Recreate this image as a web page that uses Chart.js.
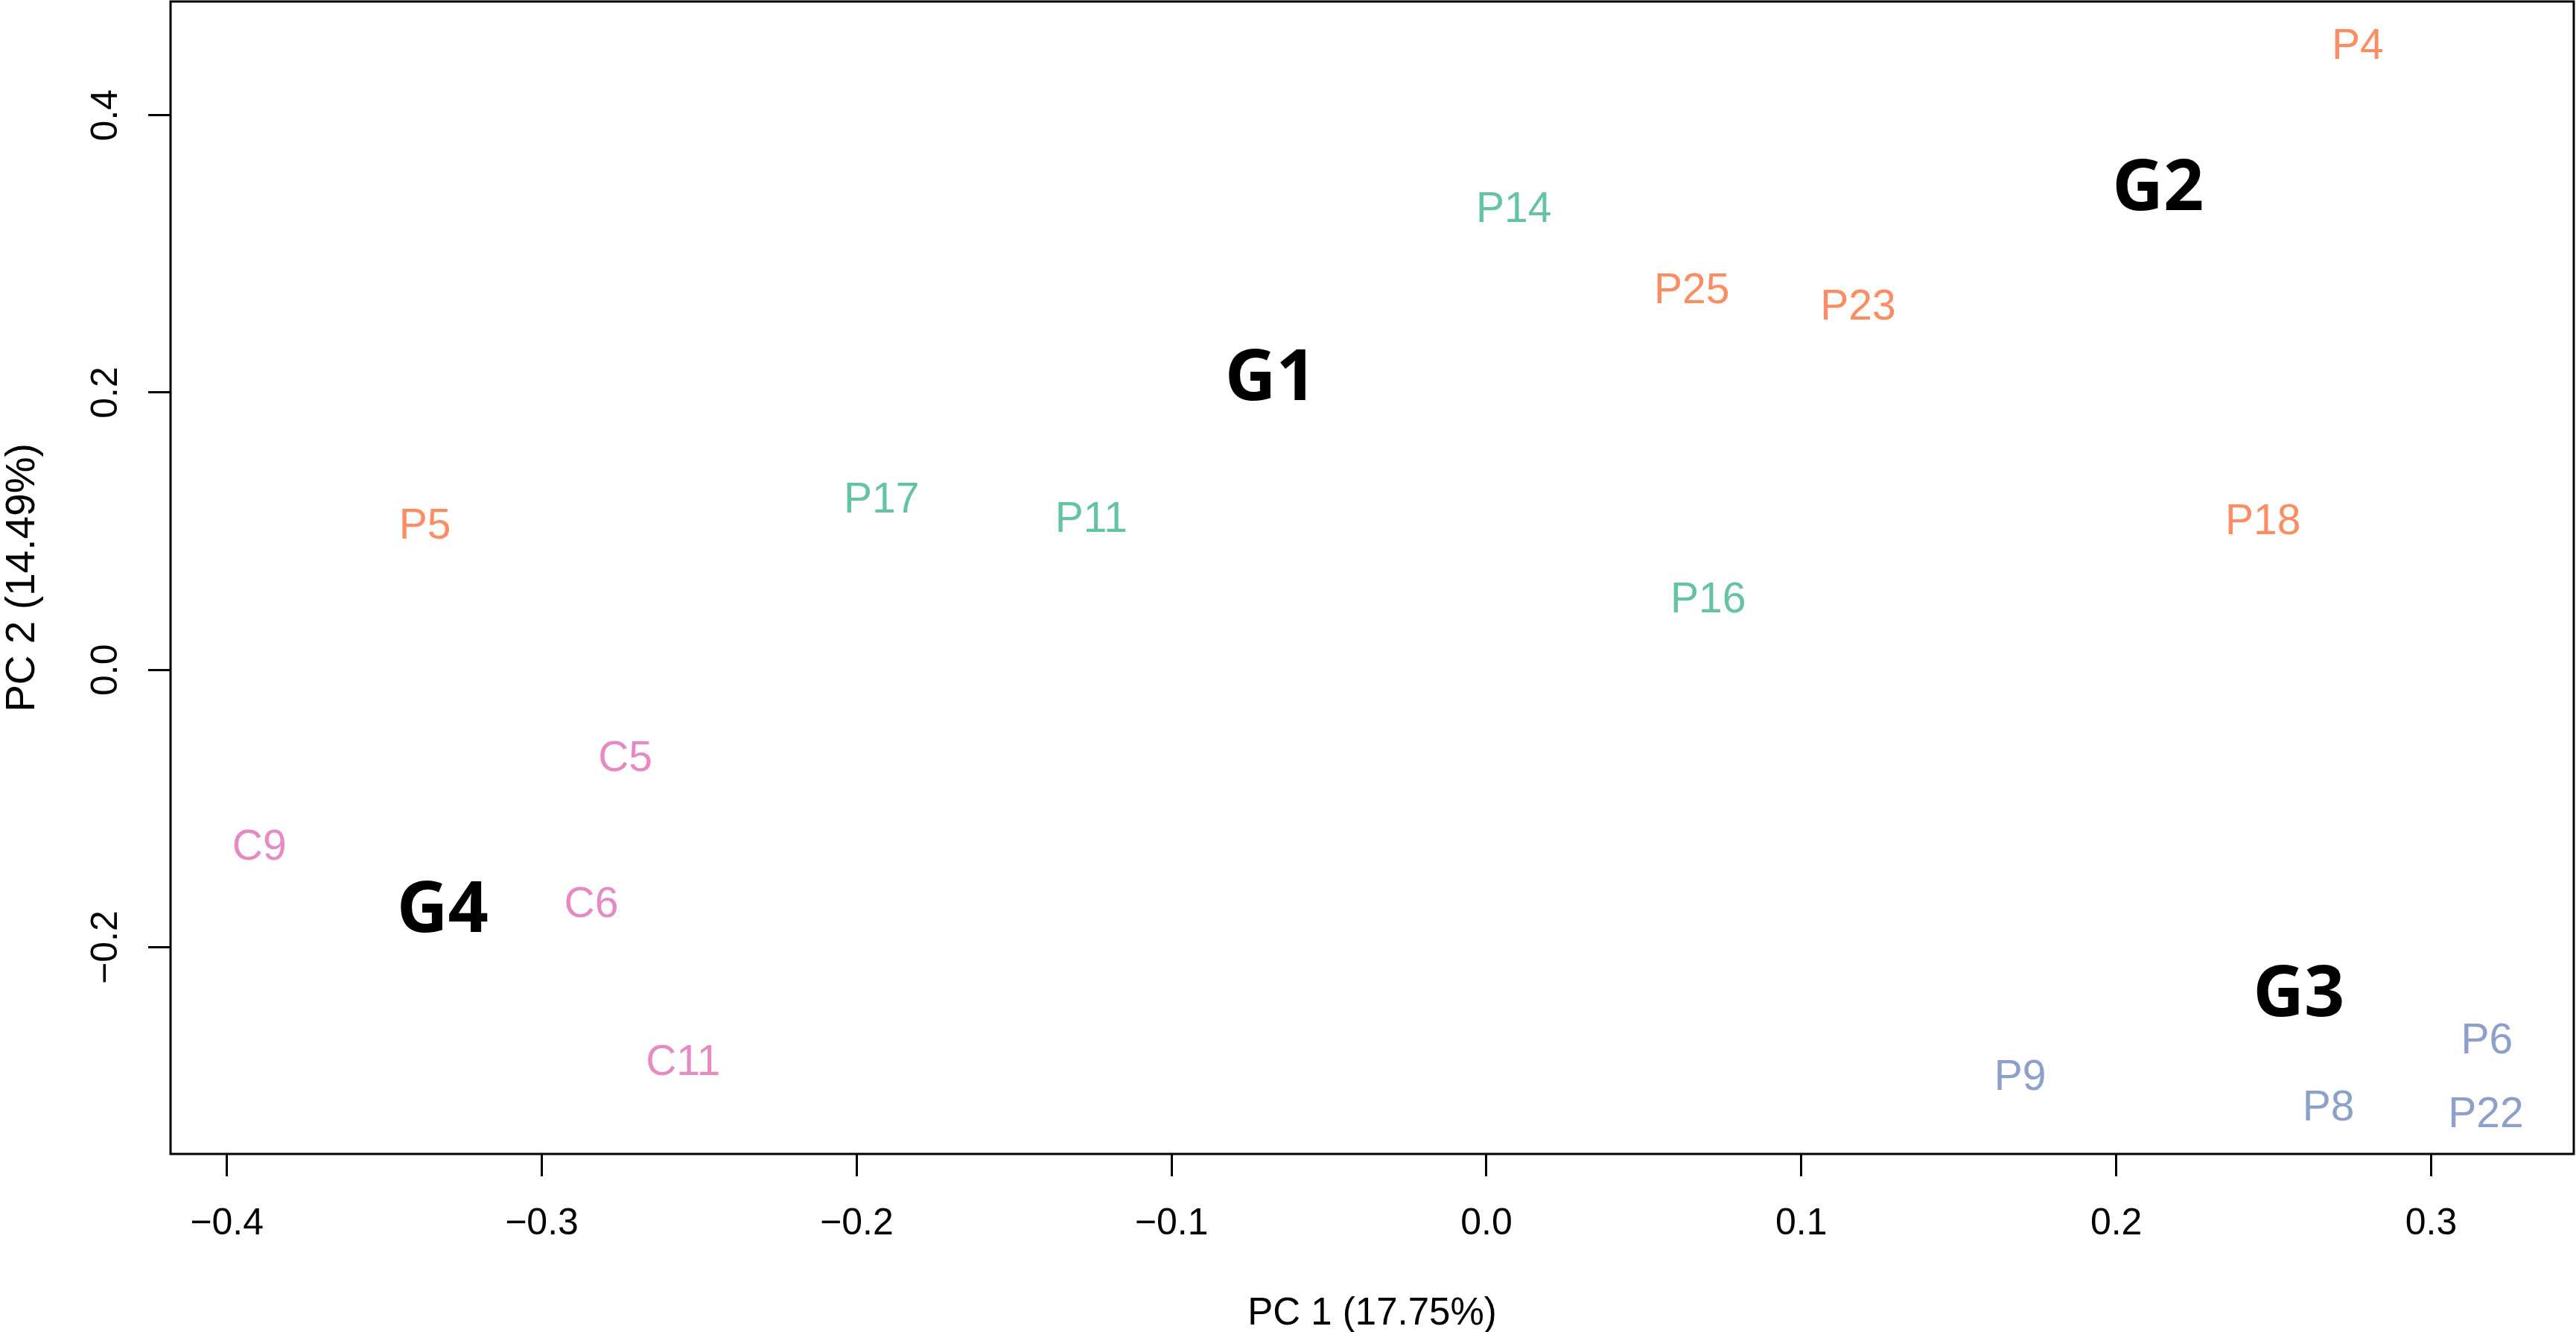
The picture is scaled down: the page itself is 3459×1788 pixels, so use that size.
<!DOCTYPE html>
<html>
<head>
<meta charset="utf-8">
<script src="https://cdn.jsdelivr.net/npm/chart.js@4.4.1/dist/chart.umd.min.js"></script>
<style>
  html, body { margin: 0; padding: 0; background: #fff; }
  canvas { display: block; }
</style>
</head>
<body>
<canvas id="pcaChart" width="3459" height="1788"></canvas>
<script>
// sample labels and their PCA coordinates, grouped by colour
const orangeNames = ['P4', 'P25', 'P23', 'P5', 'P18'];
const orangeX = [0.2767, 0.0652, 0.1180, -0.3371, 0.2466];
const orangeY = [0.4512, 0.2754, 0.2635, 0.1057, 0.1092];

const greenNames = ['P14', 'P17', 'P11', 'P16'];
const greenX = [0.0087, -0.1921, -0.1255, 0.0704];
const greenY = [0.3340, 0.1244, 0.1105, 0.0523];

const blueNames = ['P6', 'P9', 'P8', 'P22'];
const blueX = [0.3177, 0.1695, 0.2674, 0.3174];
const blueY = [-0.2656, -0.2917, -0.3139, -0.3188];

const pinkNames = ['C5', 'C9', 'C6', 'C11'];
const pinkX = [-0.2735, -0.3897, -0.2843, -0.2551];
const pinkY = [-0.0618, -0.1256, -0.1671, -0.2809];

// group captions
const groupNames = ['G1', 'G2', 'G3', 'G4'];
const groupX = [-0.0685, 0.2133, 0.2580, -0.3315];
const groupY = [0.2131, 0.3501, -0.2312, -0.1702];

const xTitle = 'PC 1 (17.75%)';
const yTitle = 'PC 2 (14.49%)';

const SANS = '"Liberation Sans", Arial, Helvetica, sans-serif';

function toPoints(xs, ys) {
  return xs.map((x, i) => ({ x: x, y: ys[i] }));
}

function fmt(v) {
  if (Math.abs(v) < 1e-9) v = 0;
  return v.toFixed(1).replace('-', '\u2212');
}

function makeSet(names, xs, ys, color, font) {
  return {
    data: toPoints(xs, ys),
    names: names,
    textColor: color,
    textFont: font,
    pointRadius: 0,
    pointHoverRadius: 0,
    showLine: false
  };
}

// draws each label centred on its point, like R's text()
const textLabels = {
  id: 'textLabels',
  afterDatasetsDraw(chart) {
    const ctx = chart.ctx;
    chart.data.datasets.forEach((ds, di) => {
      const meta = chart.getDatasetMeta(di);
      ctx.save();
      ctx.font = ds.textFont;
      ctx.fillStyle = ds.textColor;
      ctx.textAlign = 'center';
      ctx.textBaseline = 'alphabetic';
      meta.data.forEach((pt, i) => {
        const s = ds.names[i];
        const m = ctx.measureText(s);
        ctx.fillText(s, pt.x, pt.y + m.actualBoundingBoxAscent / 2);
      });
      ctx.restore();
    });
  }
};

// box, rotated y tick labels and axis titles
const axisDecor = {
  id: 'axisDecor',
  afterDraw(chart) {
    const ctx = chart.ctx;
    const a = chart.chartArea;
    const ys = chart.scales.y;
    ctx.save();
    ctx.strokeStyle = '#000';
    ctx.lineWidth = 3;
    ctx.strokeRect(a.left, a.top, a.right - a.left, a.bottom - a.top);

    ctx.fillStyle = '#000';
    ctx.textAlign = 'center';
    ctx.textBaseline = 'alphabetic';
    ctx.font = '50px ' + SANS;
    ys.ticks.forEach(t => {
      const py = ys.getPixelForValue(t.value);
      ctx.save();
      ctx.translate(a.left - 72, py);
      ctx.rotate(-Math.PI / 2);
      ctx.fillText(fmt(t.value), 0, 0);
      ctx.restore();
    });

    ctx.font = '55px ' + SANS;
    ctx.save();
    ctx.translate(46, (a.top + a.bottom) / 2);
    ctx.rotate(-Math.PI / 2);
    ctx.fillText(yTitle, 0, 0);
    ctx.restore();

    ctx.font = '51px ' + SANS;
    ctx.fillText(xTitle, (a.left + a.right) / 2, 1778);
    ctx.restore();
  }
};

new Chart(document.getElementById('pcaChart'), {
  type: 'scatter',
  data: {
    datasets: [
      makeSet(orangeNames, orangeX, orangeY, '#FC8D62', '57px ' + SANS),
      makeSet(greenNames, greenX, greenY, '#66C2A5', '57px ' + SANS),
      makeSet(blueNames, blueX, blueY, '#8DA0CB', '57px ' + SANS),
      makeSet(pinkNames, pinkX, pinkY, '#E78AC3', '57px ' + SANS),
      makeSet(groupNames, groupX, groupY, '#000000', 'bold 95px "Open Sans", "Noto Sans", sans-serif')
    ]
  },
  options: {
    responsive: false,
    devicePixelRatio: 1,
    animation: false,
    events: [],
    layout: { padding: { top: 2, right: 3, left: 0, bottom: 0 } },
    plugins: {
      legend: { display: false },
      tooltip: { enabled: false }
    },
    scales: {
      x: {
        type: 'linear',
        min: -0.4179,
        max: 0.3453,
        border: { display: false },
        grid: {
          drawOnChartArea: false,
          drawTicks: true,
          tickLength: 30,
          tickWidth: 3,
          tickColor: '#000'
        },
        ticks: {
          stepSize: 0.1,
          includeBounds: false,
          autoSkip: false,
          maxRotation: 0,
          padding: 34,
          color: '#000',
          font: { family: SANS, size: 50 },
          callback: v => fmt(v)
        },
        afterFit(scale) { scale.height = 239; }
      },
      y: {
        type: 'linear',
        min: -0.3490,
        max: 0.4820,
        border: { display: false },
        grid: {
          drawOnChartArea: false,
          drawTicks: true,
          tickLength: 30,
          tickWidth: 3,
          tickColor: '#000'
        },
        ticks: {
          stepSize: 0.2,
          includeBounds: false,
          display: false
        },
        afterFit(scale) { scale.width = 229; }
      }
    }
  },
  plugins: [textLabels, axisDecor]
});
</script>
</body>
</html>
